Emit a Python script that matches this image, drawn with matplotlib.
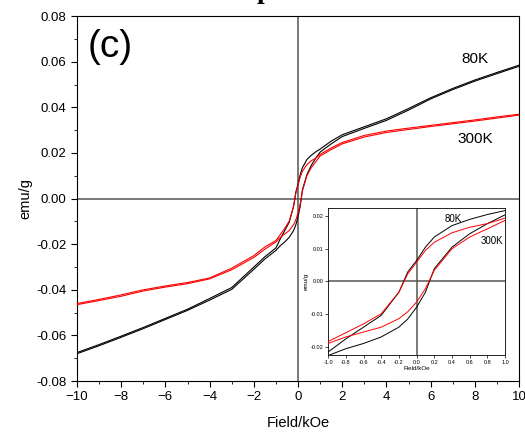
import matplotlib
matplotlib.use("Agg")
import matplotlib.pyplot as plt
from matplotlib.ticker import MultipleLocator, FormatStrFormatter

plt.rcParams['font.family'] = ['Liberation Sans', 'DejaVu Sans']

# field values (kOe) for the descending branch; ascending branch uses the reverse
H_down = [10, 9, 8, 7, 6, 5, 4, 3, 2, 1.5, 1, 0.8, 0.6, 0.4, 0.2, 0.1, 0,
          -0.1, -0.2, -0.4, -0.6, -0.8, -1, -1.5, -2, -3, -4, -5, -6, -7, -8, -9, -10]
H_up = H_down[::-1]

# 80K loop (emu/g)
m80_down = [0.0585, 0.0553, 0.0520, 0.0483, 0.0442, 0.0395, 0.0350, 0.0315, 0.0280, 0.0252,
            0.0217, 0.0205, 0.0190, 0.0171, 0.0136, 0.0105, 0.0064, 0.0029, -0.0033, -0.0104,
            -0.0140, -0.0176, -0.0216, -0.0255, -0.0300, -0.0390, -0.0438, -0.0485, -0.0525,
            -0.0565, -0.0603, -0.0640, -0.0675]
m80_up = [-0.0680, -0.0645, -0.0608, -0.0570, -0.0530, -0.0490, -0.0445, -0.0398, -0.0310,
          -0.0265, -0.0227, -0.0206, -0.0190, -0.0170, -0.0140, -0.0115, -0.0079, -0.0033,
          0.0039, 0.0105, 0.0146, 0.0177, 0.0204, 0.0240, 0.0272, 0.0308, 0.0343, 0.0388,
          0.0437, 0.0478, 0.0515, 0.0548, 0.0580]

# 300K loop (emu/g)
m300_down = [0.0370, 0.0358, 0.0345, 0.0333, 0.0321, 0.0309, 0.0296, 0.0277, 0.0246, 0.0222,
             0.0194, 0.0177, 0.0166, 0.0149, 0.0120, 0.0095, 0.0059, 0.0023, -0.0033, -0.0099,
             -0.0130, -0.0157, -0.0184, -0.0212, -0.0250, -0.0305, -0.0348, -0.0368, -0.0383,
             -0.0400, -0.0422, -0.0442, -0.0460]
m300_up = [-0.0465, -0.0447, -0.0428, -0.0405, -0.0388, -0.0373, -0.0352, -0.0312, -0.0258,
           -0.0222, -0.0190, -0.0170, -0.0155, -0.0140, -0.0114, -0.0093, -0.0063, -0.0022,
           0.0034, 0.0100, 0.0136, 0.0161, 0.0187, 0.0215, 0.0240, 0.0270, 0.0290, 0.0303,
           0.0316, 0.0328, 0.0340, 0.0353, 0.0366]


def draw_loops(ax, lw):
    ax.axhline(0, color='#555555', lw=1.1, zorder=1)
    ax.axvline(0, color='#555555', lw=1.1, zorder=1)
    ax.plot(H_down, m80_down, color='black', lw=lw, zorder=3)
    ax.plot(H_up, m80_up, color='black', lw=lw, zorder=3)
    ax.plot(H_down, m300_down, color='red', lw=lw, zorder=4)
    ax.plot(H_up, m300_up, color='red', lw=lw, zorder=4)


fig = plt.figure(figsize=(5.25, 4.36), dpi=100)
ax = fig.add_axes([0.1467, 0.126, 0.842, 0.837])
draw_loops(ax, 0.8)
ax.set_xlim(-10, 10)
ax.set_ylim(-0.08, 0.08)
ax.xaxis.set_major_locator(MultipleLocator(2))
ax.xaxis.set_minor_locator(MultipleLocator(1))
ax.yaxis.set_major_locator(MultipleLocator(0.02))
ax.yaxis.set_minor_locator(MultipleLocator(0.01))
ax.yaxis.set_major_formatter(FormatStrFormatter('%.2f'))
ax.tick_params(which='both', direction='out', labelsize=9.5, top=False, right=False)
ax.tick_params(which='major', length=4)
ax.tick_params(which='minor', length=2.5)
ax.set_xlabel('Field/kOe', fontsize=10.5, labelpad=9)
ax.set_ylabel('emu/g', fontsize=10.5, labelpad=3)
ax.text(-9.5, 0.0665, '(c)', fontsize=28, va='center')
ax.text(8.0, 0.0613, '80K', fontsize=11, ha='center', va='center')
ax.text(8.0, 0.0263, '300K', fontsize=11, ha='center', va='center')

# partially cut-off title fragment at top edge
fig.text(0.503, 1.004, 'p', fontsize=20, family='Liberation Serif',
         weight='bold', va='baseline', ha='center')

ins = fig.add_axes([0.625, 0.186, 0.337, 0.337])
draw_loops(ins, 0.7)
ins.set_xlim(-1, 1)
ins.set_ylim(-0.0225, 0.0225)
ins.xaxis.set_major_locator(MultipleLocator(0.2))
ins.yaxis.set_major_locator(MultipleLocator(0.01))
ins.xaxis.set_major_formatter(FormatStrFormatter('%.1f'))
ins.yaxis.set_major_formatter(FormatStrFormatter('%.2f'))
ins.tick_params(direction='out', labelsize=4, length=2, width=0.5, pad=1.5)
for s in ins.spines.values():
    s.set_linewidth(0.6)
ins.set_xlabel('Field/kOe', fontsize=4.5, labelpad=1)
ins.set_ylabel('emu/g', fontsize=4.5, labelpad=1)
ins.text(0.42, 0.0192, '80K', fontsize=7, ha='center', va='center')
ins.text(0.85, 0.0125, '300K', fontsize=7, ha='center', va='center')

fig.savefig('out.png', dpi=100)
